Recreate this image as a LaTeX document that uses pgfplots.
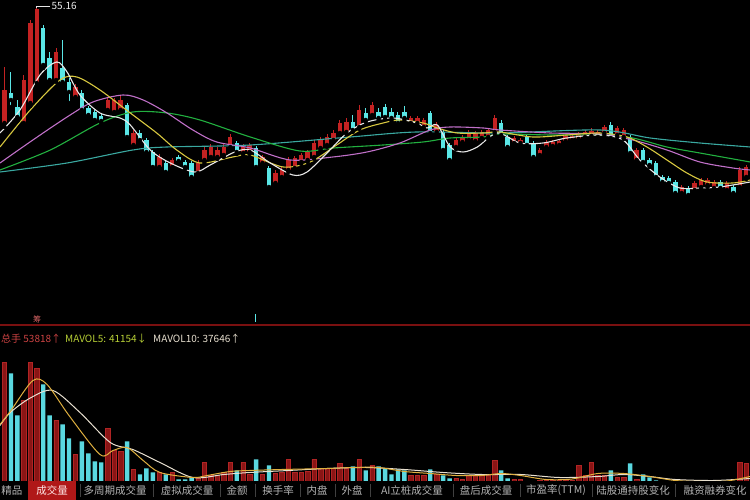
\documentclass[border=0pt]{standalone}
\usepackage{fontspec}
\usepackage{pgfplots}
\usepackage{pgfplotstable}
\pgfplotsset{compat=1.18}
\setmainfont{Noto Sans CJK SC}
\definecolor{upred}{HTML}{C42222}
\definecolor{dncyan}{HTML}{5AE6E6}
\definecolor{volred}{HTML}{8A1515}
\definecolor{voledge}{HTML}{B02424}
\definecolor{volcyan}{HTML}{5AD8E0}
\definecolor{maW}{HTML}{E8E8E8}
\definecolor{maY}{HTML}{D8C840}
\definecolor{maP}{HTML}{C070C8}
\definecolor{maG}{HTML}{22B040}
\definecolor{maT}{HTML}{3AA8A0}
\definecolor{mv5}{HTML}{E0B040}
\definecolor{mv10}{HTML}{E8E0D0}
\definecolor{sepred}{HTML}{7A1010}
\definecolor{tabred}{HTML}{B01818}
\definecolor{tabgray}{HTML}{B4B4B4}

% price candles: i low high bodybottom bodytop
\pgfplotstableread{
i L H B T
0 43.3 49.3 43.7 47.0
3 43.4 48.5 43.7 48.0
4 45.4 54.0 45.7 53.7
5 47.4 55.16 47.7 55.1
8 47.8 51.2 48.0 50.8
11 46.1 47.6 46.3 47.3
16 44.8 46.3 45.0 46.0
17 44.6 46.2 44.8 46.0
18 44.8 46.4 45.0 46.0
20 41.3 43.0 41.5 42.7
24 39.1 40.6 39.3 40.3
26 39.1 40.2 39.3 40.0
30 38.5 40.0 38.7 39.7
31 39.7 41.3 40.0 41.0
32 40.1 41.6 40.3 41.3
33 40.1 41.3 40.3 41.0
34 40.3 41.6 40.5 41.3
35 41.1 42.6 41.3 42.3
37 40.5 41.6 40.7 41.3
38 40.6 41.7 40.8 41.5
40 39.5 40.5 39.7 40.3
42 37.4 39.0 37.7 38.7
43 38.1 39.3 38.3 39.0
44 38.8 40.3 39.0 40.0
45 39.0 40.4 39.2 40.2
46 39.6 40.7 39.8 40.5
47 39.8 41.0 40.0 40.8
48 40.1 42.0 40.3 41.7
49 41.0 42.3 41.2 42.0
50 41.3 42.6 41.5 42.3
51 41.8 43.0 42.0 42.7
52 42.5 44.0 42.7 43.7
53 42.6 44.2 42.8 43.8
55 43.1 45.5 43.3 45.0
57 44.3 45.8 44.5 45.5
63 43.5 44.4 43.7 44.2
64 43.5 44.4 43.7 44.2
65 43.1 44.2 43.3 44.0
67 42.6 43.8 42.8 43.5
70 41.1 42.2 41.3 42.0
71 41.6 42.5 41.8 42.3
72 41.8 43.0 42.0 42.8
73 41.7 42.9 41.9 42.7
74 42.0 43.0 42.2 42.8
75 42.1 43.2 42.3 43.0
76 42.6 44.5 42.8 44.2
79 41.5 42.4 41.7 42.2
80 41.5 42.2 41.7 42.0
83 40.3 41.2 40.5 41.0
84 41.1 42.0 41.3 41.8
85 41.2 42.0 41.4 41.8
86 41.3 42.1 41.5 41.9
87 41.7 42.6 41.9 42.4
88 41.8 42.6 42.0 42.4
89 41.9 42.8 42.1 42.5
90 42.1 43.0 42.3 42.8
91 42.2 43.2 42.4 42.9
92 42.1 43.0 42.3 42.8
93 42.5 43.5 42.7 43.3
95 42.3 43.4 42.5 43.2
96 42.1 43.2 42.3 43.0
98 39.8 41.2 40.0 41.0
105 36.5 37.5 36.7 37.3
107 36.8 37.9 37.0 37.7
108 37.1 38.2 37.3 38.0
109 37.3 38.2 37.5 38.0
110 37.0 38.0 37.2 37.8
112 36.8 37.9 37.0 37.7
114 37.1 39.3 37.3 39.0
115 38.1 39.5 38.3 39.3
}\uptab

\pgfplotstableread{
i L H B T
1 45.3 48.8 46.0 46.7
2 43.9 46.0 44.3 45.3
6 49.2 53.5 49.5 53.2
7 47.7 50.8 48.0 50.2
9 47.5 52.0 47.8 49.2
10 45.7 48.2 46.8 47.8
12 44.8 47.0 45.0 46.7
13 44.3 45.4 44.5 45.2
14 43.8 45.0 44.0 44.8
15 43.7 44.6 43.9 44.4
19 42.1 45.7 42.3 45.5
21 41.8 43.0 42.0 42.7
22 40.6 42.2 40.8 42.0
23 39.1 41.0 39.3 40.8
25 38.6 39.9 38.8 39.7
27 39.7 40.5 39.9 40.3
28 39.1 40.0 39.3 39.8
29 38.1 39.9 38.3 39.7
36 40.6 41.9 40.8 41.7
39 39.1 41.4 39.3 41.2
41 37.1 39.4 37.3 39.2
54 42.8 44.5 43.0 43.8
56 43.8 45.2 44.0 44.7
58 44.0 45.2 44.2 44.8
59 44.1 45.6 44.3 45.3
60 43.9 45.2 44.2 44.8
61 43.5 44.8 43.7 44.5
62 44.0 45.4 44.2 44.8
66 42.5 44.9 42.7 44.7
68 40.8 43.0 41.0 42.8
69 39.8 41.7 40.0 41.5
77 42.3 44.0 42.5 43.7
78 41.1 42.5 41.3 42.3
81 41.3 42.5 41.5 42.3
82 40.1 41.9 40.3 41.7
94 42.0 43.8 42.2 43.5
97 40.5 42.5 40.7 42.3
99 39.6 41.2 39.8 41.0
100 39.3 40.2 39.5 40.0
101 38.1 39.9 38.3 39.7
102 37.6 38.5 37.8 38.3
103 37.5 38.4 37.7 38.2
104 36.5 38.0 36.7 37.8
106 36.3 37.4 36.5 37.2
111 37.0 38.0 37.2 37.8
113 36.5 37.5 36.7 37.3
}\dntab

\pgfplotstableread{
i v
0 256000
3 180000
4 256000
5 244000
8 140000
11 72000
16 124000
17 80000
18 78000
20 42000
24 36000
26 36000
30 24000
31 56000
32 30000
33 30000
34 36000
35 56000
37 56000
38 32000
40 32000
42 34000
43 36000
44 62000
45 36000
46 36000
47 38000
48 62000
49 44000
50 44000
51 44000
52 54000
53 44000
55 62000
57 50000
63 30000
64 30000
65 30000
67 32000
70 24000
71 22000
72 30000
73 30000
74 30000
75 30000
76 60000
79 22000
80 22000
83 20000
84 20000
85 20000
86 20000
87 20000
88 20000
89 50000
90 30000
91 56000
92 30000
93 30000
95 26000
96 26000
98 22000
105 18000
107 18000
108 17000
109 17000
110 17000
112 18000
114 56000
115 53818
}\volup

\pgfplotstableread{
i v
1 234000
2 150000
6 212000
7 150000
9 132000
10 104000
12 98000
13 74000
14 58000
15 56000
19 98000
21 32000
22 44000
23 36000
25 32000
27 22000
28 22000
29 26000
36 40000
39 62000
41 50000
54 48000
56 40000
58 48000
59 44000
60 32000
61 42000
62 40000
66 42000
68 30000
69 24000
77 40000
78 24000
81 18000
82 18000
94 40000
97 54000
99 32000
100 26000
101 20000
102 18000
103 18000
104 20000
106 18000
111 18000
113 17000
}\voldn

\begin{document}
\begin{tikzpicture}[x=1pt,y=1pt]
\clip (0,0) rectangle (750,500);
\fill[black] (0,0) rectangle (750,500);

% ---------------- price panel ----------------
\begin{axis}[at={(0,178)}, anchor=south west, scale only axis,
  width=750pt, height=322pt, xmin=-0.698, xmax=115.58, ymin=23.8, ymax=56,
  hide axis, clip=true]
% wicks
\addplot[only marks, mark=none, forget plot, error bars/.cd, y dir=plus, y explicit, error mark=none,
  error bar style={draw=upred, line width=1pt}]
  table[x=i, y=L, y error plus expr=\thisrow{H}-\thisrow{L}] \uptab;
\addplot[only marks, mark=none, forget plot, error bars/.cd, y dir=plus, y explicit, error mark=none,
  error bar style={draw=dncyan, line width=1pt}]
  table[x=i, y=L, y error plus expr=\thisrow{H}-\thisrow{L}] \dntab;
% bodies
\addplot[only marks, mark=none, forget plot, error bars/.cd, y dir=plus, y explicit, error mark=none,
  error bar style={draw=upred, line width=4.4pt}]
  table[x=i, y=B, y error plus expr=\thisrow{T}-\thisrow{B}] \uptab;
\addplot[only marks, mark=none, forget plot, error bars/.cd, y dir=plus, y explicit, error mark=none,
  error bar style={draw=dncyan, line width=4.4pt}]
  table[x=i, y=B, y error plus expr=\thisrow{T}-\thisrow{B}] \dntab;
% MA60
\addplot[maT, line width=1.1pt, smooth] coordinates {
(-0.7,38.8) (9.7,39.7) (19.9,41.0) (25.2,41.3) (38.1,41.5) (53.6,42.3) (63.9,42.8)
(76.8,42.7) (92.3,43.0) (100.1,42.2) (107.8,41.7) (115.6,41.3)};
% MA30
\addplot[maG, line width=1.1pt, smooth] coordinates {
(-0.7,39.0) (7.1,41.0) (14.8,43.7) (19.9,44.8) (25.2,44.7) (30.3,44.0) (38.1,42.3)
(45.8,40.9) (51,41.2) (58.7,41.5) (64.9,41.8) (69.1,42.2) (74.2,42.3) (76.8,42.6)
(84.6,42.5) (92.3,42.5) (97.4,42.2) (102.7,41.3) (107.8,40.7) (115.6,39.8)};
% MA20
\addplot[maP, line width=1.1pt, smooth] coordinates {
(-0.7,39.7) (4.4,42.0) (9.7,44.3) (13.7,45.8) (18.4,46.5) (21.5,46.0) (25.2,44.7)
(29.2,43.0) (32.9,41.8) (38.1,41.2) (44.3,40.0) (50.9,40.3) (56.2,40.8) (61.3,41.7)
(66.0,43.0) (69.1,43.3) (74.2,43.2) (76.8,43.0) (84.6,42.7) (92.3,42.6) (97.4,42.0)
(102.7,41.0) (107.8,39.8) (112.9,39.2) (115.6,39.0)};
% MA10
\addplot[maY, line width=1.1pt, smooth] coordinates {
(-0.7,41.3) (4,45.0) (8.6,48.0) (11.2,48.3) (14.8,47.0) (19.5,44.7) (23.6,42.7)
(26.7,41.0) (30.3,39.7) (35.4,40.3) (38.1,40.5) (43.2,39.3) (47.4,39.8) (51.5,41.5)
(55.1,43.0) (58.7,43.7) (61.3,44.0) (64.9,43.7) (67.1,43.2) (70.2,42.7) (74.2,42.7)
(76.8,42.8) (81.9,42.3) (87.2,42.5) (92.3,42.7) (96.5,42.3) (99.6,41.3) (102.7,40.0)
(105.8,38.7) (108.9,37.8) (112.9,37.7) (115.6,38.0)};
% MA5
\addplot[maW, line width=1.1pt, smooth] coordinates {
(-0.7,42.7) (2.4,45.0) (5.5,48.5) (8.1,49.8) (9.7,48.8) (11.7,46.5) (14.8,44.7)
(17.9,44.2) (19.5,43.5) (22.6,41.0) (25.7,39.7) (29.5,38.8) (31.9,39.5) (35.7,40.8)
(38.1,41.0) (41.2,39.7) (44.7,38.5) (46.9,38.8) (50.0,40.7) (53.1,42.7) (56.2,43.8)
(60.2,44.2) (63.9,43.7) (65.5,43.2) (67.1,43.5) (69.1,41.3) (71.1,40.8) (73.3,41.3)
(76.4,42.7) (79.9,41.7) (83.5,41.7) (87.2,42.2) (92.3,42.5) (95.9,42.0) (98.5,40.0)
(101.6,38.3) (104.7,37.2) (107.8,37.2) (110.9,37.3) (115.6,37.8)};
% high marker
\draw[white!80!gray, line width=0.8pt] (axis cs:5,55.16) -- (axis cs:5,55.38) -- (axis cs:7.1,55.38)
  node[right, inner sep=1pt, text=white!85!gray, font=\fontsize{10}{10}\selectfont] {55.16};
\end{axis}

% separator + header
\draw[sepred, line width=1.2pt] (0,175) -- (750,175);
\node[text=upred!70!white, font=\fontsize{8}{8}\selectfont, inner sep=0pt] at (37,181) {筹};
\draw[dncyan, line width=1pt] (255,178) -- (255,186);
\node[anchor=west, inner sep=0pt, text=upred!85!white, font=\fontsize{10}{12}\selectfont] at (1,161) {总手 53818↑};
\node[anchor=west, inner sep=0pt, text=maY!85!green, font=\fontsize{10}{12}\selectfont] at (65,161) {MAVOL5: 41154↓};
\node[anchor=west, inner sep=0pt, text=mv10, font=\fontsize{10}{12}\selectfont] at (153,161) {MAVOL10: 37646↑};

% ---------------- volume panel ----------------
\begin{axis}[at={(0,19)}, anchor=south west, scale only axis,
  width=750pt, height=136pt, xmin=-0.698, xmax=115.58, ymin=0, ymax=272000,
  hide axis, clip=true]
\addplot[ybar, bar width=4.4pt, bar shift=0pt, fill=volred, draw=voledge, line width=0.5pt]
  table[x=i, y=v] \volup;
\addplot[ybar, bar width=4.4pt, bar shift=0pt, fill=volcyan, draw=none]
  table[x=i, y=v] \voldn;
\addplot[mv10, line width=1pt, smooth] coordinates {
(-0.7,130000) (0.9,156000) (4,185000) (7.5,200000) (11.7,156000) (16.4,96000)
(19.9,82000) (24.1,56000) (29.2,26000) (34,32000) (38,36000) (44,40000) (50,44000)
(56,46000) (62,42000) (68,36000) (74,32000) (80,32000) (86,26000) (92,28000)
(96,32000) (100,28000) (104,22000) (110,20000) (115.6,24000)};
\addplot[mv5, line width=1pt, smooth] coordinates {
(-0.7,132000) (1,160000) (4.4,220000) (6.6,212000) (10,150000) (14.8,72000)
(16.8,80000) (19,86000) (21.5,60000) (24.1,36000) (29.2,26000) (31.4,30000)
(35,38000) (38,40000) (43,42000) (50,44000) (54,46000) (58,46000) (62,38000)
(66,34000) (70,30000) (74,30000) (77,34000) (80,30000) (84,22000) (88,23000)
(92,34000) (96,34000) (100,28000) (104,20000) (108,18000) (112,19000) (115.6,28000)};
\end{axis}

% ---------------- tab bar ----------------
\fill[black] (0,0) rectangle (750,19);
\fill[tabred] (28,0) rectangle (76,19);
\begin{scope}[every node/.style={inner sep=0pt, text=tabgray, font=\fontsize{10.5}{12}\selectfont}]
\node at (12,9.5) {精品};
\node[text=white!90!red] at (52,9.5) {成交量};
\node at (115,9.5) {多周期成交量};
\node at (187,9.5) {虚拟成交量};
\node at (237,9.5) {金额};
\node at (278,9.5) {换手率};
\node at (317,9.5) {内盘};
\node at (352,9.5) {外盘};
\node at (412,9.5) {AI立桩成交量};
\node at (486,9.5) {盘后成交量};
\node at (556,9.5) {市盈率(TTM)};
\node at (633,9.5) {陆股通持股变化};
\node at (715,9.5) {融资融券变化};
\end{scope}
\foreach \sx in {80,153,220,255,300,335,370,453,520,592,675} {
  \draw[white!25!black, line width=0.6pt] (\sx,3) -- (\sx,16);
}
\end{tikzpicture}
\end{document}
